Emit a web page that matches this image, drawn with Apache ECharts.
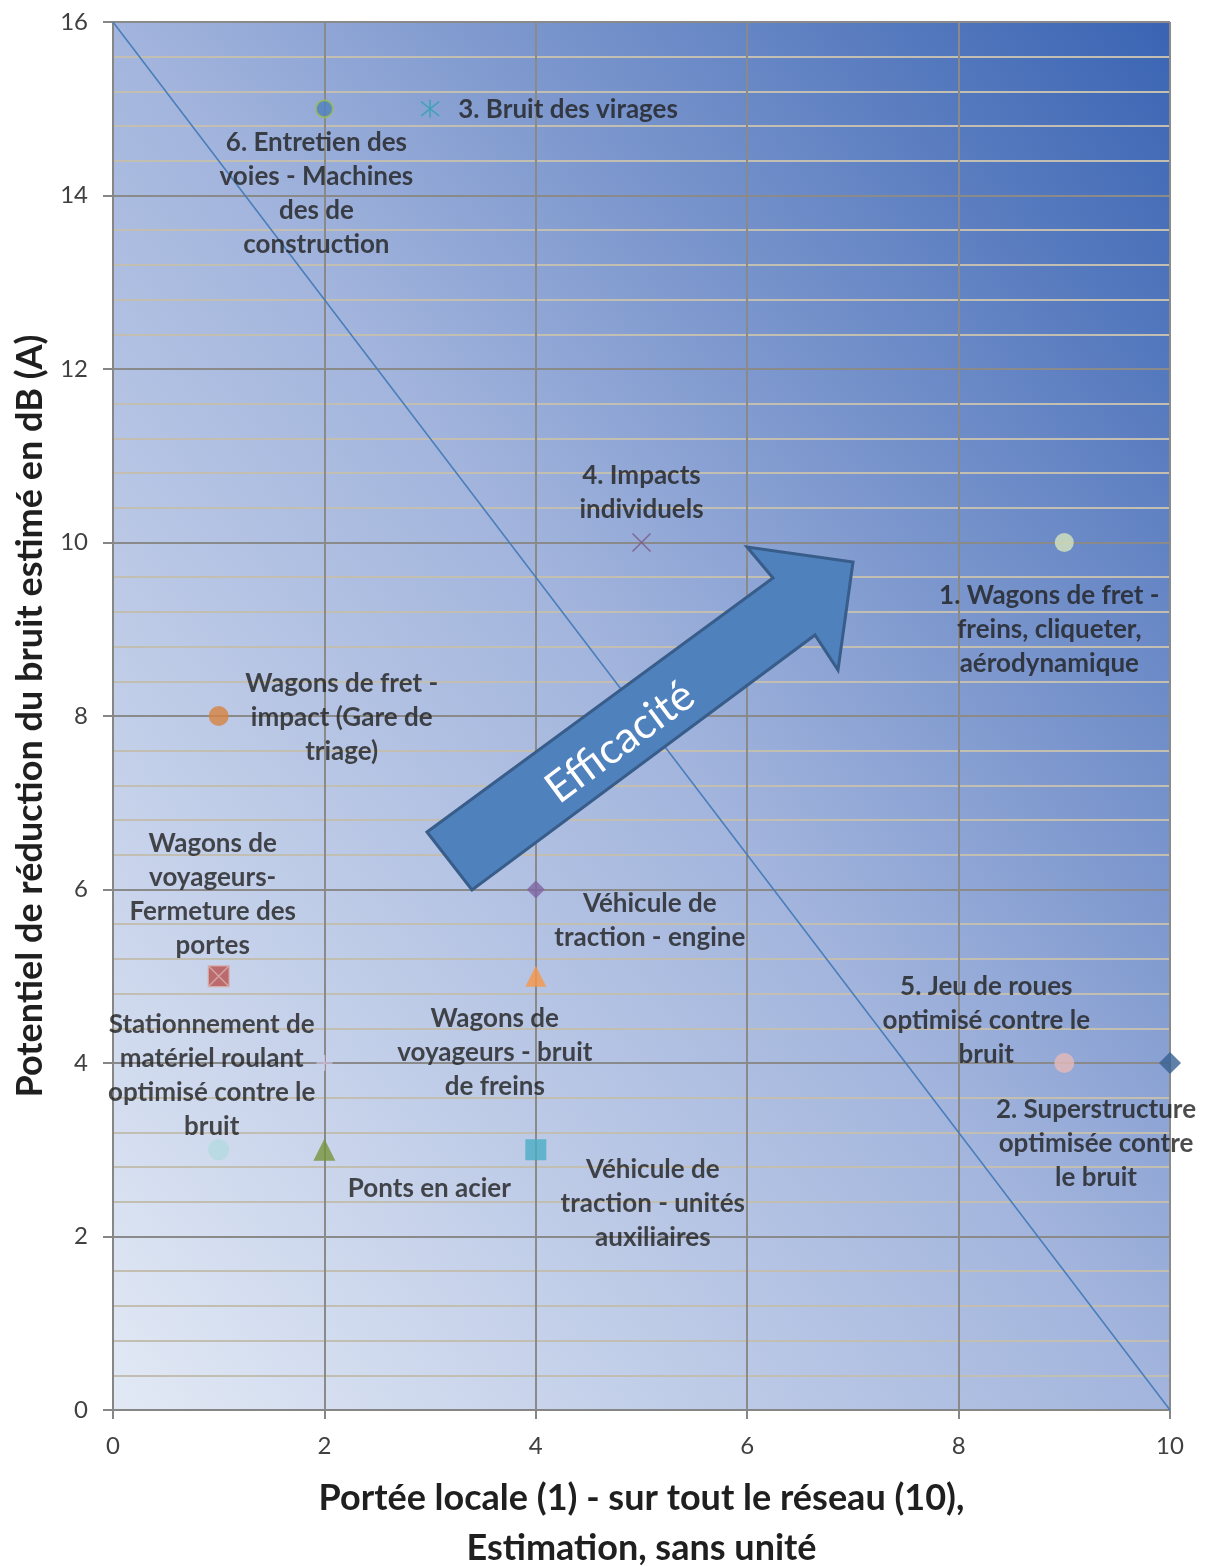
<!DOCTYPE html>
<html lang="fr" style="height: 100%;width: 100%">
<head>
    <meta charset="UTF-8">
    <title>Efficacité des mesures anti-bruit</title>
</head>
<body style="height: 100%; margin: 0; background: #fff">
<div id="charts" style="height: 1567px;width: 1207px"></div>
<script type="text/javascript" src="https://cdn.jsdelivr.net/npm/echarts@6/dist/echarts.min.js"></script>
<script>
    // mesures : portée (x) et potentiel de réduction en dB(A) (y)
    var pointNames = [
        '1. Wagons de fret -\nfreins, cliqueter,\naérodynamique',
        '2. Superstructure\noptimisée contre\nle bruit',
        '3. Bruit des virages',
        '4. Impacts\nindividuels',
        '5. Jeu de roues\noptimisé contre le\nbruit',
        '6. Entretien des\nvoies - Machines\ndes de\nconstruction',
        'Wagons de fret -\nimpact (Gare de\ntriage)',
        'Wagons de\nvoyageurs-\nFermeture des\nportes',
        'Stationnement de\nmatériel roulant\noptimisé contre le\nbruit',
        '',
        'Ponts en acier',
        'Véhicule de\ntraction - unités\nauxiliaires',
        'Wagons de\nvoyageurs - bruit\nde freins',
        'Véhicule de\ntraction - engine'
    ];
    var scopeValues = [9, 10, 3, 5, 9, 2, 1, 1, 1, 2, 2, 4, 4, 4];
    var reductionValues = [10, 4, 15, 10, 4, 15, 8, 5, 3, 4, 3, 3, 5, 6];

    // ligne limite
    var limitX = [0, 10];
    var limitY = [16, 0];

    var xTicks = [0, 2, 4, 6, 8, 10];
    var yTicks = [0, 2, 4, 6, 8, 10, 12, 14, 16];

    // styles des marqueurs (pas des données)
    var asterisk = 'path://M0,-10L0,10M-8,-8L8,8M-8,8L8,-8';
    var cross = 'path://M-8,-8L8,8M-8,8L8,-8';
    var plus = 'path://M0,-8L0,8M-8,0L8,0';
    var boxX = 'path://M-10,-10L10,-10L10,10L-10,10Z M-10,-10L10,10M10,-10L-10,10';
    var markerStyles = [
        {symbol: 'circle', size: 19, color: '#d7e4bd'},
        {symbol: 'diamond', size: 22, color: '#376092'},
        {symbol: asterisk, size: 18, color: 'none', border: '#31a3b3', bw: 1.6},
        {symbol: cross, size: 18, color: 'none', border: '#7a5a8a', bw: 1.6},
        {symbol: 'circle', size: 20, color: '#e6b9b8'},
        {symbol: 'circle', size: 17, color: '#4f81bd', border: '#9bbb59', bw: 2},
        {symbol: 'circle', size: 20, color: '#d7823f'},
        {symbol: boxX, size: 21, color: '#b9504d', border: '#d9b4b4', bw: 1.4},
        {symbol: 'circle', size: 21, color: '#b3d9e0'},
        {symbol: plus, size: 16, color: 'none', border: '#d9c8e6', bw: 1.6},
        {symbol: 'triangle', size: 22, color: '#77933c'},
        {symbol: 'rect', size: 21, color: '#4bacc6'},
        {symbol: 'triangle', size: 21, color: '#f79646'},
        {symbol: 'diamond', size: 18, color: '#8064a2'}
    ];
    // décalage du centre des étiquettes par rapport au point (px)
    var labelOffsets = [
        [-15, 87], [-74, 81], [138, 1], [0, -50], [-78, -42], [-8, 85], [123, 2],
        [-6, -82], [-7, -74], [0, 0], [105, 39], [117, 54], [-41, 76], [114, 31]
    ];

    var dom = document.getElementById("charts");
    var myChart = echarts.init(dom);

    var points = scopeValues.map(function (x, i) {
        var st = markerStyles[i];
        return {
            value: [x, reductionValues[i]],
            name: pointNames[i],
            symbol: st.symbol,
            symbolSize: st.size,
            itemStyle: {
                color: st.color,
                borderColor: st.border || st.color,
                borderWidth: st.bw || 0
            },
            label: {
                show: pointNames[i] !== '',
                offset: labelOffsets[i]
            }
        };
    });

    var option = {
        backgroundColor: '#ffffff',
        animation: false,
        textStyle: {fontFamily: 'Lato'},
        grid: {
            left: 113, right: 37, top: 22, bottom: 157,
            outerBoundsMode: 'none',
            containLabel: false,
            show: true,
            borderWidth: 0,
            backgroundColor: new echarts.graphic.LinearGradient(-27, 1225, 1309, 207, [
                {offset: 0, color: '#e2e9f5'},
                {offset: 0.5, color: '#a3b5dd'},
                {offset: 1, color: '#3a64b3'}
            ], true)
        },
        xAxis: {
            type: 'value',
            min: xTicks[0], max: xTicks[xTicks.length - 1], interval: 2,
            name: 'Portée locale (1) - sur tout le réseau (10),\nEstimation, sans unité',
            nameLocation: 'middle',
            nameGap: 63,
            nameMoveOverlap: false,
            nameTextStyle: {fontSize: 36, fontWeight: 'bold', color: '#1f1f1f', lineHeight: 50, fontFamily: 'Lato'},
            axisLine: {show: true, lineStyle: {color: '#868686', width: 2}},
            axisTick: {show: true, length: 9, lineStyle: {color: '#868686', width: 2}},
            axisLabel: {fontSize: 24, color: '#404040', margin: 24, fontFamily: 'Lato'},
            splitLine: {show: true, lineStyle: {color: '#8a8a8a', width: 2}}
        },
        yAxis: {
            type: 'value',
            min: yTicks[0], max: yTicks[yTicks.length - 1], interval: 2,
            name: 'Potentiel de réduction du bruit estimé en dB (A)',
            nameLocation: 'middle',
            nameGap: 65,
            nameMoveOverlap: false,
            nameTextStyle: {fontSize: 36, fontWeight: 'bold', color: '#1f1f1f', fontFamily: 'Lato'},
            axisLine: {show: true, lineStyle: {color: '#868686', width: 2}},
            axisTick: {show: true, length: 10, lineStyle: {color: '#868686', width: 2}},
            axisLabel: {fontSize: 24, color: '#404040', margin: 25, fontFamily: 'Lato'},
            splitLine: {show: true, lineStyle: {color: '#8a8a8a', width: 2}},
            minorTick: {show: false, splitNumber: 5},
            minorSplitLine: {show: true, lineStyle: {color: '#c3beb2', width: 2}}
        },
        series: [
            {
                type: 'line',
                data: limitX.map(function (x, i) { return [x, limitY[i]]; }),
                symbol: 'none',
                lineStyle: {color: '#4a7ebb', width: 1.6},
                z: 3
            },
            {
                type: 'scatter',
                data: points,
                z: 4,
                label: {
                    position: 'inside',
                    formatter: '{b}',
                    align: 'center',
                    verticalAlign: 'middle',
                    fontFamily: 'Lato',
                    fontSize: 26,
                    fontWeight: 'bold',
                    lineHeight: 34,
                    color: '#1f1f1f'
                }
            }
        ],
        graphic: [
            {
                type: 'polygon',
                z: 10,
                shape: {
                    points: [[427, 832], [773, 578], [747, 547], [853, 562],
                        [838, 670], [815, 635], [472, 890]]
                },
                style: {fill: '#4f81bd', stroke: '#385d8a', lineWidth: 3}
            },
            {
                type: 'text',
                z: 11,
                x: 620, y: 742,
                rotation: 0.639,
                style: {
                    text: 'Efficacité',
                    fill: '#ffffff',
                    font: '43px Lato',
                    textAlign: 'center',
                    textVerticalAlign: 'middle'
                }
            }
        ]
    };

    if (option && typeof option === "object") {
        myChart.setOption(option, true);
    }
</script>
</body>
</html>
